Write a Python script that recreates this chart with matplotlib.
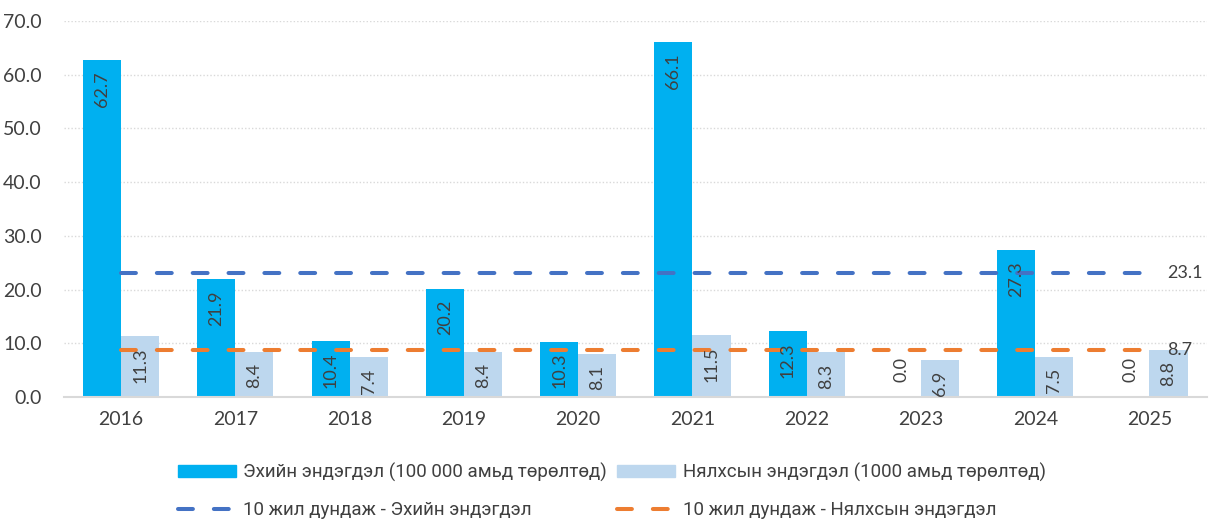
import matplotlib.pyplot as plt
from matplotlib.lines import Line2D
from matplotlib.patches import Patch
import numpy as np

# Data
years = ["2016", "2017", "2018", "2019", "2020", "2021", "2022", "2023", "2024", "2025"]
maternal = [62.7, 21.9, 10.4, 20.2, 10.3, 66.1, 12.3, 0.0, 27.3, 0.0]
infant = [11.3, 8.4, 7.4, 8.4, 8.1, 11.5, 8.3, 6.9, 7.5, 8.8]
maternal_avg = 23.1
infant_avg = 8.7

label_maternal = "Эхийн эндэгдэл (100 000 амьд төрөлтөд)"
label_infant = "Нялхсын эндэгдэл (1000 амьд төрөлтөд)"
label_maternal_avg = "10 жил дундаж - Эхийн эндэгдэл"
label_infant_avg = "10 жил дундаж - Нялхсын эндэгдэл"

text_color = "#404040"
plt.rcParams['font.family'] = ['Lato', 'DejaVu Sans']

fig = plt.figure(figsize=(12.09, 5.2), dpi=100)
ax = fig.add_axes([0.053, 0.2365, 0.945, 0.7231])

x = np.arange(len(years))
w = 0.333
ax.bar(x - w / 2, maternal, width=w, color="#00B0F0", zorder=2)
ax.bar(x + w / 2, infant, width=w, color="#BDD7EE", zorder=2)

# average lines
for val, col in [(maternal_avg, "#4472C4"), (infant_avg, "#ED7D31")]:
    ln, = ax.plot([x[0], x[-1]], [val, val], color=col, lw=2.9,
                  dash_capstyle="round", zorder=3)
    ln.set_dashes([3.7, 5.2])
    ax.annotate(f"{val:.1f}", (x[-1], val), xytext=(13, 0), textcoords="offset points",
                ha="left", va="center", fontsize=13, color=text_color)

# bar value labels
for xs, vals in [(x - w / 2, maternal), (x + w / 2, infant)]:
    for xi, v in zip(xs, vals):
        if v > 0:
            ax.annotate(f"{v:.1f}", (xi, v), xytext=(0, -8), textcoords="offset points",
                        rotation=90, ha="center", va="top", fontsize=13,
                        color=text_color, zorder=4)
        else:
            ax.annotate(f"{v:.1f}", (xi, v), xytext=(0, 11), textcoords="offset points",
                        rotation=90, ha="center", va="bottom", fontsize=13,
                        color=text_color, zorder=4)

ax.set_xlim(-0.5, len(years) - 0.5)
ax.set_ylim(0, 70)
ax.set_yticks(np.arange(0, 71, 10))
ax.set_yticklabels([f"{t:.1f}" for t in np.arange(0, 71, 10)])
ax.set_xticks(x)
ax.set_xticklabels(years)
ax.tick_params(length=0, labelsize=14, colors=text_color)
ax.tick_params(axis="x", pad=10)
ax.tick_params(axis="y", pad=16)
ax.grid(axis="y", color="#D9D9D9", linestyle=(0, (1, 1.5)), lw=1, zorder=0)
for s in ["left", "right", "top"]:
    ax.spines[s].set_visible(False)
ax.spines["bottom"].set_color("#D9D9D9")
ax.spines["bottom"].set_linewidth(1.5)

handles = [
    Patch(color="#00B0F0", label=label_maternal),
    Line2D([0], [0], color="#4472C4", lw=2.9, dashes=[3.7, 5.2], dash_capstyle="round",
           label=label_maternal_avg),
    Patch(color="#BDD7EE", label=label_infant),
    Line2D([0], [0], color="#ED7D31", lw=2.9, dashes=[3.7, 5.2], dash_capstyle="round",
           label=label_infant_avg),
]
leg = fig.legend(handles=handles, ncol=2, loc="lower center", bbox_to_anchor=(0.506, -0.03),
                 frameon=False, handlelength=3.1, handleheight=0.58, labelspacing=1.0,
                 columnspacing=0.55, handletextpad=0.38,
                 prop={"family": ["Roboto", "DejaVu Sans"], "size": 13.5})
for t in leg.get_texts():
    t.set_color(text_color)

fig.savefig("out.png", dpi=100)
